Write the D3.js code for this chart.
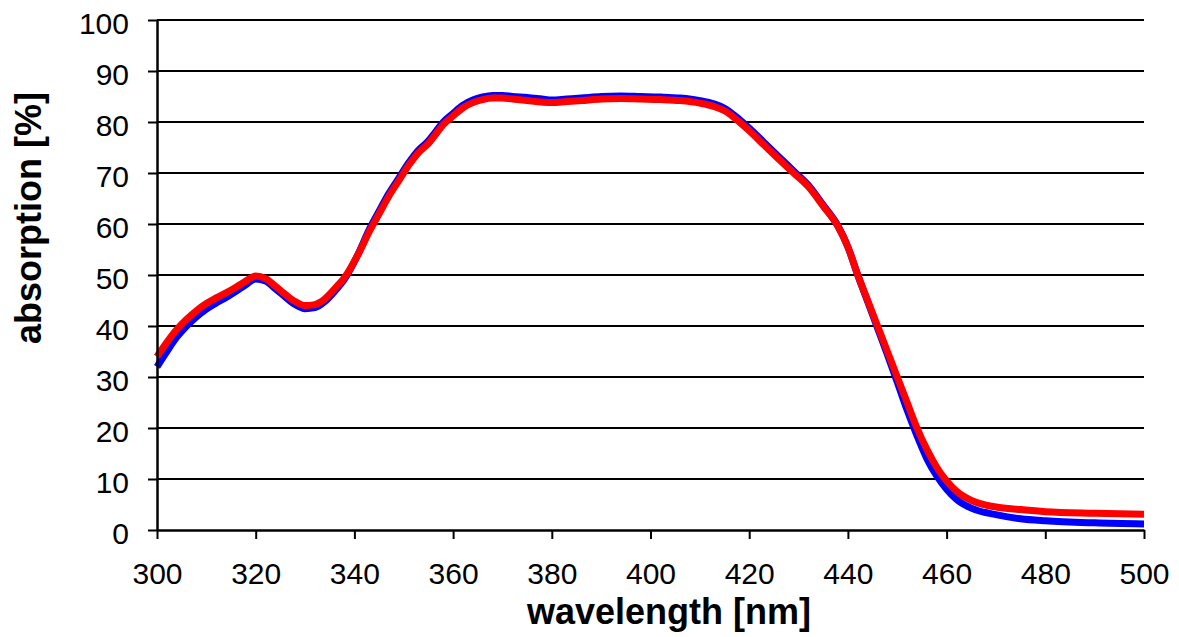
<!DOCTYPE html>
<meta charset="utf-8">
<style>

body {
  margin: 0;
  background: #fff;
}

text {
  font-family: "Liberation Sans", Arial, sans-serif;
  fill: #000;
}

</style>
<svg></svg>
<script src="https://d3js.org/d3.v7.min.js"></script>
<script>

var width = 1179,
    height = 637;

var margin = {top: 20, right: 35, bottom: 107, left: 157};

// wavelength [nm] and absorption [%]
var redNm  = [300, 302, 304, 306, 308, 310, 312, 314, 316, 318, 320, 322, 324, 326, 328, 330, 332, 334, 336, 338,
              341, 343, 345, 347, 349, 351, 353, 355, 356, 358, 360, 362, 364, 366, 368, 370, 372, 375, 378, 380,
              383, 386, 390, 394, 398, 402, 406, 410, 413, 415, 418, 420, 423, 426, 429, 432, 435, 438, 440, 442,
              444, 446, 448, 450, 452, 454, 456, 458, 460, 462, 465, 470, 475, 480, 490, 500];
var redAbs = [34.0, 36.8, 39.3, 41.3, 43.0, 44.4, 45.5, 46.5, 47.6, 48.8, 49.8, 49.3, 47.8, 46.2, 44.8, 44.0, 44.2, 45.3, 47.3, 49.5,
              54.5, 58.5, 62.0, 65.5, 68.5, 71.5, 74.0, 75.8, 77.0, 79.5, 81.2, 82.8, 83.8, 84.4, 84.7, 84.7, 84.5, 84.2, 83.9, 83.8,
              84.0, 84.2, 84.5, 84.6, 84.5, 84.4, 84.2, 83.7, 83.0, 82.2, 80.0, 78.3, 75.5, 72.7, 70.0, 67.3, 63.5, 59.5, 55.5, 50.0,
              45.0, 40.0, 35.0, 30.0, 25.0, 20.0, 15.8, 12.3, 9.6, 7.6, 5.8, 4.5, 4.0, 3.6, 3.3, 3.1];

var blueNm  = [300, 302, 304, 306, 308, 310, 312, 314, 316, 318, 320, 322, 324, 326, 328, 330, 332, 334, 336, 338,
               341, 343, 345, 347, 349, 351, 353, 355, 356, 358, 360, 362, 364, 366, 368, 370, 372, 375, 378, 380,
               383, 386, 390, 394, 398, 402, 406, 410, 413, 415, 418, 420, 423, 426, 429, 432, 435, 438, 440, 442,
               444, 446, 448, 450, 452, 454, 456, 458, 460, 462, 465, 470, 475, 480, 490, 500];
var blueAbs = [32.0, 35.0, 37.8, 40.0, 41.8, 43.3, 44.5, 45.6, 46.8, 48.1, 49.2, 48.8, 47.3, 45.7, 44.2, 43.4, 43.6, 44.8, 46.8, 49.2,
               54.6, 58.9, 62.5, 66.0, 69.0, 72.0, 74.5, 76.3, 77.5, 80.0, 81.7, 83.3, 84.3, 84.9, 85.2, 85.2, 85.0, 84.8, 84.5, 84.3,
               84.5, 84.7, 85.0, 85.1, 85.0, 84.9, 84.7, 84.2, 83.5, 82.7, 80.5, 78.8, 76.0, 73.2, 70.4, 67.6, 63.7, 59.6, 55.5, 50.0,
               44.8, 39.6, 34.4, 29.0, 23.5, 18.5, 14.0, 10.6, 8.0, 6.0, 4.3, 3.0, 2.2, 1.8, 1.4, 1.2];

var xTicks = [300, 320, 340, 360, 380, 400, 420, 440, 460, 480, 500];
var yTicks = [0, 10, 20, 30, 40, 50, 60, 70, 80, 90, 100];

var svg = d3.select("svg")
    .attr("width", width)
    .attr("height", height);

var x = d3.scaleLinear()
    .domain([300, 500])
    .range([margin.left, width - margin.right]);

var y = d3.scaleLinear()
    .domain([0, 100])
    .range([height - margin.bottom, margin.top]);

// horizontal gridlines
svg.append("g")
    .selectAll("line")
    .data(yTicks.slice(1))
    .enter()
    .append("line")
    .attr("x1", margin.left)
    .attr("x2", width - margin.right)
    .attr("y1", function(d) { return y(d); })
    .attr("y2", function(d) { return y(d); })
    .attr("stroke", "#000")
    .attr("stroke-width", 2);

var line = d3.line()
    .x(function(d) { return x(d[0]); })
    .y(function(d) { return y(d[1]); })
    .curve(d3.curveMonotoneX);

svg.append("path")
    .datum(d3.zip(blueNm, blueAbs))
    .attr("fill", "none")
    .attr("stroke", "#0000ff")
    .attr("stroke-width", 7)
    .attr("stroke-linejoin", "round")
    .attr("d", line);

svg.append("path")
    .datum(d3.zip(redNm, redAbs))
    .attr("fill", "none")
    .attr("stroke", "#ff0000")
    .attr("stroke-width", 7)
    .attr("stroke-linejoin", "round")
    .attr("d", line);

// axes
var xAxis = svg.append("g")
    .attr("transform", "translate(0," + y(0) + ")")
    .call(d3.axisBottom(x).tickValues(xTicks).tickSize(9).tickPadding(24).tickSizeOuter(0));

var yAxis = svg.append("g")
    .attr("transform", "translate(" + margin.left + ",0)")
    .call(d3.axisLeft(y).tickValues(yTicks).tickSize(9).tickPadding(19).tickSizeOuter(0));

[xAxis, yAxis].forEach(function(g) {
  g.select(".domain").attr("stroke", "#000").attr("stroke-width", 2.5);
  g.selectAll(".tick line").attr("stroke", "#000").attr("stroke-width", 2);
  g.selectAll(".tick text")
      .attr("font-family", "Liberation Sans, Arial, sans-serif")
      .attr("font-size", 30)
      .attr("fill", "#000");
});

yAxis.selectAll(".tick text").attr("dy", "0.45em");

svg.append("text")
    .attr("x", 669)
    .attr("y", 624)
    .attr("text-anchor", "middle")
    .attr("font-size", 36)
    .attr("font-weight", "bold")
    .text("wavelength [nm]");

svg.append("text")
    .attr("transform", "translate(41,218) rotate(-90)")
    .attr("text-anchor", "middle")
    .attr("font-size", 36)
    .attr("font-weight", "bold")
    .text("absorption [%]");

</script>
